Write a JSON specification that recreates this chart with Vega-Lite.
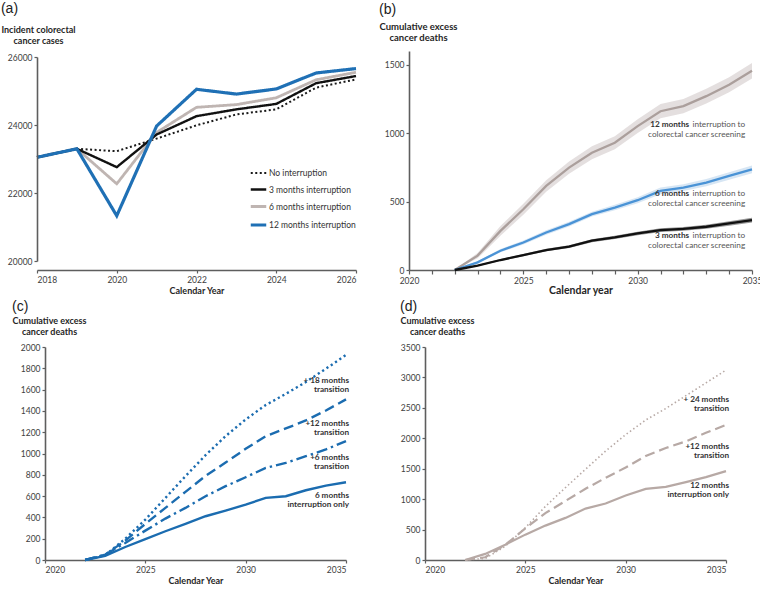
{
  "$schema": "https://vega.github.io/schema/vega-lite/v6.json",
  "padding": {"left": 0, "top": 2, "right": 0, "bottom": 0},
  "bounds": "flush",
  "columns": 2,
  "spacing": {"row": 77, "column": 53},
  "config": {
    "view": {"stroke": null, "fill": null},
    "font": "Lato",
    "axis": {"zindex": 1, "domain": true, "domainWidth": 1.6, "labelOverlap": false, "labelFont": "Lato", "labelFontSize": 8.5, "labelColor": "#404040", "domainColor": "#5e5e5e", "tickColor": "#5e5e5e", "tickWidth": 1.2, "tickSize": 3, "grid": false, "titleFont": "Lato", "titleFontWeight": "bold", "titleColor": "#262626", "titleFontSize": 9, "labelPadding": 2},
    "axisY": {"domain": true, "domainColor": "#5e5e5e", "domainWidth": 1.6, "zindex": 1},
    "title": {"font": "Liberation Sans", "fontSize": 14, "fontWeight": "normal", "anchor": "start", "color": "#222222"}
  },
  "datasets": {
    "inc": [
      {"scenario": "No interruption", "year": 2018, "cases": 23050}, {"scenario": "No interruption", "year": 2019, "cases": 23300}, {"scenario": "No interruption", "year": 2020, "cases": 23230}, {"scenario": "No interruption", "year": 2021, "cases": 23600}, {"scenario": "No interruption", "year": 2022, "cases": 23990}, {"scenario": "No interruption", "year": 2023, "cases": 24310}, {"scenario": "No interruption", "year": 2024, "cases": 24460}, {"scenario": "No interruption", "year": 2025, "cases": 25100}, {"scenario": "No interruption", "year": 2026, "cases": 25340},
      {"scenario": "6 months interruption", "year": 2018, "cases": 23050}, {"scenario": "6 months interruption", "year": 2019, "cases": 23300}, {"scenario": "6 months interruption", "year": 2020, "cases": 22270}, {"scenario": "6 months interruption", "year": 2021, "cases": 23780}, {"scenario": "6 months interruption", "year": 2022, "cases": 24520}, {"scenario": "6 months interruption", "year": 2023, "cases": 24600}, {"scenario": "6 months interruption", "year": 2024, "cases": 24800}, {"scenario": "6 months interruption", "year": 2025, "cases": 25330}, {"scenario": "6 months interruption", "year": 2026, "cases": 25550},
      {"scenario": "3 months interruption", "year": 2018, "cases": 23050}, {"scenario": "3 months interruption", "year": 2019, "cases": 23300}, {"scenario": "3 months interruption", "year": 2020, "cases": 22760}, {"scenario": "3 months interruption", "year": 2021, "cases": 23720}, {"scenario": "3 months interruption", "year": 2022, "cases": 24260}, {"scenario": "3 months interruption", "year": 2023, "cases": 24460}, {"scenario": "3 months interruption", "year": 2024, "cases": 24620}, {"scenario": "3 months interruption", "year": 2025, "cases": 25230}, {"scenario": "3 months interruption", "year": 2026, "cases": 25440},
      {"scenario": "12 months interruption", "year": 2018, "cases": 23050}, {"scenario": "12 months interruption", "year": 2019, "cases": 23300}, {"scenario": "12 months interruption", "year": 2020, "cases": 21330}, {"scenario": "12 months interruption", "year": 2021, "cases": 23970}, {"scenario": "12 months interruption", "year": 2022, "cases": 25050}, {"scenario": "12 months interruption", "year": 2023, "cases": 24910}, {"scenario": "12 months interruption", "year": 2024, "cases": 25060}, {"scenario": "12 months interruption", "year": 2025, "cases": 25530}, {"scenario": "12 months interruption", "year": 2026, "cases": 25660}
    ],
    "deathsB": [
      {"scenario": "12 months", "year": 2022, "deaths": 0, "lo": 0, "hi": 0}, {"scenario": "12 months", "year": 2023, "deaths": 105, "lo": 85, "hi": 125}, {"scenario": "12 months", "year": 2024, "deaths": 286, "lo": 251, "hi": 321}, {"scenario": "12 months", "year": 2025, "deaths": 444, "lo": 404, "hi": 484}, {"scenario": "12 months", "year": 2026, "deaths": 614, "lo": 572, "hi": 656}, {"scenario": "12 months", "year": 2027, "deaths": 748, "lo": 703, "hi": 793}, {"scenario": "12 months", "year": 2028, "deaths": 857, "lo": 810, "hi": 904}, {"scenario": "12 months", "year": 2029, "deaths": 930, "lo": 882, "hi": 978}, {"scenario": "12 months", "year": 2030, "deaths": 1051, "lo": 1001, "hi": 1101}, {"scenario": "12 months", "year": 2031, "deaths": 1160, "lo": 1108, "hi": 1212}, {"scenario": "12 months", "year": 2032, "deaths": 1197, "lo": 1145, "hi": 1249}, {"scenario": "12 months", "year": 2033, "deaths": 1270, "lo": 1216, "hi": 1324}, {"scenario": "12 months", "year": 2034, "deaths": 1354, "lo": 1299, "hi": 1409}, {"scenario": "12 months", "year": 2035, "deaths": 1456, "lo": 1400, "hi": 1512},
      {"scenario": "6 months", "year": 2022, "deaths": 0, "lo": 0, "hi": 0}, {"scenario": "6 months", "year": 2023, "deaths": 56, "lo": 48, "hi": 64}, {"scenario": "6 months", "year": 2024, "deaths": 141, "lo": 129, "hi": 153}, {"scenario": "6 months", "year": 2025, "deaths": 201, "lo": 187, "hi": 215}, {"scenario": "6 months", "year": 2026, "deaths": 274, "lo": 258, "hi": 290}, {"scenario": "6 months", "year": 2027, "deaths": 335, "lo": 318, "hi": 352}, {"scenario": "6 months", "year": 2028, "deaths": 408, "lo": 390, "hi": 426}, {"scenario": "6 months", "year": 2029, "deaths": 456, "lo": 436, "hi": 476}, {"scenario": "6 months", "year": 2030, "deaths": 510, "lo": 488, "hi": 532}, {"scenario": "6 months", "year": 2031, "deaths": 578, "lo": 554, "hi": 602}, {"scenario": "6 months", "year": 2032, "deaths": 602, "lo": 577, "hi": 627}, {"scenario": "6 months", "year": 2033, "deaths": 638, "lo": 612, "hi": 664}, {"scenario": "6 months", "year": 2034, "deaths": 687, "lo": 660, "hi": 714}, {"scenario": "6 months", "year": 2035, "deaths": 735, "lo": 707, "hi": 763},
      {"scenario": "3 months", "year": 2022, "deaths": 0, "lo": 0, "hi": 0}, {"scenario": "3 months", "year": 2023, "deaths": 32, "lo": 27, "hi": 37}, {"scenario": "3 months", "year": 2024, "deaths": 73, "lo": 66, "hi": 80}, {"scenario": "3 months", "year": 2025, "deaths": 109, "lo": 101, "hi": 117}, {"scenario": "3 months", "year": 2026, "deaths": 146, "lo": 137, "hi": 155}, {"scenario": "3 months", "year": 2027, "deaths": 170, "lo": 160, "hi": 180}, {"scenario": "3 months", "year": 2028, "deaths": 214, "lo": 203, "hi": 225}, {"scenario": "3 months", "year": 2029, "deaths": 238, "lo": 226, "hi": 250}, {"scenario": "3 months", "year": 2030, "deaths": 267, "lo": 254, "hi": 280}, {"scenario": "3 months", "year": 2031, "deaths": 291, "lo": 277, "hi": 305}, {"scenario": "3 months", "year": 2032, "deaths": 301, "lo": 287, "hi": 315}, {"scenario": "3 months", "year": 2033, "deaths": 316, "lo": 301, "hi": 331}, {"scenario": "3 months", "year": 2034, "deaths": 340, "lo": 324, "hi": 356}, {"scenario": "3 months", "year": 2035, "deaths": 364, "lo": 347, "hi": 381}
    ],
    "labelsB": [
      {"year": 2034.7, "value": 1063, "bold": "12 months", "rest": "interruption to", "line2": "colorectal cancer screening"},
      {"year": 2034.7, "value": 553, "bold": "6 months", "rest": "interruption to", "line2": "colorectal cancer screening"},
      {"year": 2034.7, "value": 248, "bold": "3 months", "rest": "interruption to", "line2": "colorectal cancer screening"}
    ],
    "deathsC": [
      {"scenario": "+18 months transition", "year": 2022, "deaths": 0}, {"scenario": "+18 months transition", "year": 2023, "deaths": 45}, {"scenario": "+18 months transition", "year": 2024, "deaths": 200}, {"scenario": "+18 months transition", "year": 2025, "deaths": 379}, {"scenario": "+18 months transition", "year": 2026, "deaths": 583}, {"scenario": "+18 months transition", "year": 2027, "deaths": 787}, {"scenario": "+18 months transition", "year": 2028, "deaths": 984}, {"scenario": "+18 months transition", "year": 2029, "deaths": 1163}, {"scenario": "+18 months transition", "year": 2030, "deaths": 1320}, {"scenario": "+18 months transition", "year": 2031, "deaths": 1455}, {"scenario": "+18 months transition", "year": 2032, "deaths": 1560}, {"scenario": "+18 months transition", "year": 2033, "deaths": 1671}, {"scenario": "+18 months transition", "year": 2034, "deaths": 1796}, {"scenario": "+18 months transition", "year": 2035, "deaths": 1925},
      {"scenario": "+12 months transition", "year": 2022, "deaths": 0}, {"scenario": "+12 months transition", "year": 2023, "deaths": 50}, {"scenario": "+12 months transition", "year": 2024, "deaths": 182}, {"scenario": "+12 months transition", "year": 2025, "deaths": 339}, {"scenario": "+12 months transition", "year": 2026, "deaths": 489}, {"scenario": "+12 months transition", "year": 2027, "deaths": 640}, {"scenario": "+12 months transition", "year": 2028, "deaths": 790}, {"scenario": "+12 months transition", "year": 2029, "deaths": 915}, {"scenario": "+12 months transition", "year": 2030, "deaths": 1044}, {"scenario": "+12 months transition", "year": 2031, "deaths": 1163}, {"scenario": "+12 months transition", "year": 2032, "deaths": 1235}, {"scenario": "+12 months transition", "year": 2033, "deaths": 1310}, {"scenario": "+12 months transition", "year": 2034, "deaths": 1404}, {"scenario": "+12 months transition", "year": 2035, "deaths": 1508},
      {"scenario": "+6 months transition", "year": 2022, "deaths": 0}, {"scenario": "+6 months transition", "year": 2023, "deaths": 50}, {"scenario": "+6 months transition", "year": 2024, "deaths": 160}, {"scenario": "+6 months transition", "year": 2025, "deaths": 276}, {"scenario": "+6 months transition", "year": 2026, "deaths": 389}, {"scenario": "+6 months transition", "year": 2027, "deaths": 489}, {"scenario": "+6 months transition", "year": 2028, "deaths": 599}, {"scenario": "+6 months transition", "year": 2029, "deaths": 693}, {"scenario": "+6 months transition", "year": 2030, "deaths": 777}, {"scenario": "+6 months transition", "year": 2031, "deaths": 865}, {"scenario": "+6 months transition", "year": 2032, "deaths": 912}, {"scenario": "+6 months transition", "year": 2033, "deaths": 975}, {"scenario": "+6 months transition", "year": 2034, "deaths": 1038}, {"scenario": "+6 months transition", "year": 2035, "deaths": 1116},
      {"scenario": "6 months interruption only", "year": 2022, "deaths": 0}, {"scenario": "6 months interruption only", "year": 2023, "deaths": 38}, {"scenario": "6 months interruption only", "year": 2024, "deaths": 122}, {"scenario": "6 months interruption only", "year": 2025, "deaths": 197}, {"scenario": "6 months interruption only", "year": 2026, "deaths": 270}, {"scenario": "6 months interruption only", "year": 2027, "deaths": 339}, {"scenario": "6 months interruption only", "year": 2028, "deaths": 411}, {"scenario": "6 months interruption only", "year": 2029, "deaths": 464}, {"scenario": "6 months interruption only", "year": 2030, "deaths": 520}, {"scenario": "6 months interruption only", "year": 2031, "deaths": 583}, {"scenario": "6 months interruption only", "year": 2032, "deaths": 599}, {"scenario": "6 months interruption only", "year": 2033, "deaths": 655}, {"scenario": "6 months interruption only", "year": 2034, "deaths": 699}, {"scenario": "6 months interruption only", "year": 2035, "deaths": 730}
    ],
    "labelsC": [
      {"year": 2035, "value": 1681, "l1": "+ 18 months", "l2": "transition"},
      {"year": 2035, "value": 1277, "l1": "+12 months", "l2": "transition"},
      {"year": 2035, "value": 958, "l1": "+6 months", "l2": "transition"},
      {"year": 2035, "value": 601, "l1": "6 months", "l2": "interruption only"}
    ],
    "deathsD": [
      {"scenario": "+ 24 months transition", "year": 2022, "deaths": 0}, {"scenario": "+ 24 months transition", "year": 2023, "deaths": 25}, {"scenario": "+ 24 months transition", "year": 2024, "deaths": 225}, {"scenario": "+ 24 months transition", "year": 2025, "deaths": 530}, {"scenario": "+ 24 months transition", "year": 2026, "deaths": 880}, {"scenario": "+ 24 months transition", "year": 2027, "deaths": 1190}, {"scenario": "+ 24 months transition", "year": 2028, "deaths": 1490}, {"scenario": "+ 24 months transition", "year": 2029, "deaths": 1790}, {"scenario": "+ 24 months transition", "year": 2030, "deaths": 2060}, {"scenario": "+ 24 months transition", "year": 2031, "deaths": 2300}, {"scenario": "+ 24 months transition", "year": 2032, "deaths": 2490}, {"scenario": "+ 24 months transition", "year": 2033, "deaths": 2700}, {"scenario": "+ 24 months transition", "year": 2034, "deaths": 2910}, {"scenario": "+ 24 months transition", "year": 2035, "deaths": 3120},
      {"scenario": "+12 months transition", "year": 2022, "deaths": 0}, {"scenario": "+12 months transition", "year": 2023, "deaths": 45}, {"scenario": "+12 months transition", "year": 2024, "deaths": 250}, {"scenario": "+12 months transition", "year": 2025, "deaths": 520}, {"scenario": "+12 months transition", "year": 2026, "deaths": 770}, {"scenario": "+12 months transition", "year": 2027, "deaths": 970}, {"scenario": "+12 months transition", "year": 2028, "deaths": 1170}, {"scenario": "+12 months transition", "year": 2029, "deaths": 1350}, {"scenario": "+12 months transition", "year": 2030, "deaths": 1520}, {"scenario": "+12 months transition", "year": 2031, "deaths": 1710}, {"scenario": "+12 months transition", "year": 2032, "deaths": 1840}, {"scenario": "+12 months transition", "year": 2033, "deaths": 1950}, {"scenario": "+12 months transition", "year": 2034, "deaths": 2090}, {"scenario": "+12 months transition", "year": 2035, "deaths": 2220},
      {"scenario": "12 months interruption only", "year": 2022, "deaths": 0}, {"scenario": "12 months interruption only", "year": 2023, "deaths": 100}, {"scenario": "12 months interruption only", "year": 2024, "deaths": 252}, {"scenario": "12 months interruption only", "year": 2025, "deaths": 417}, {"scenario": "12 months interruption only", "year": 2026, "deaths": 565}, {"scenario": "12 months interruption only", "year": 2027, "deaths": 692}, {"scenario": "12 months interruption only", "year": 2028, "deaths": 845}, {"scenario": "12 months interruption only", "year": 2029, "deaths": 928}, {"scenario": "12 months interruption only", "year": 2030, "deaths": 1060}, {"scenario": "12 months interruption only", "year": 2031, "deaths": 1169}, {"scenario": "12 months interruption only", "year": 2032, "deaths": 1202}, {"scenario": "12 months interruption only", "year": 2033, "deaths": 1279}, {"scenario": "12 months interruption only", "year": 2034, "deaths": 1361}, {"scenario": "12 months interruption only", "year": 2035, "deaths": 1460}
    ],
    "labelsD": [
      {"year": 2035, "value": 2634, "l1": "+ 24 months", "l2": "transition"},
      {"year": 2035, "value": 1862, "l1": "+12 months", "l2": "transition"},
      {"year": 2035, "value": 1216, "l1": "12 months", "l2": "interruption only"}
    ],
    "one": [{"k": 1}]
  },
  "concat": [
    {
      "width": 319,
      "height": 219,
      "title": {"text": "(a)", "offset": 9},
      "encoding": {
        "x": {"field": "year", "type": "quantitative", "scale": {"domain": [2018, 2026], "nice": false, "zero": false},
          "axis": {"values": [2018, 2020, 2022, 2024, 2026], "format": "d", "labelOverlap": false, "title": "Calendar Year", "titlePadding": 3}},
        "y": {"field": "cases", "type": "quantitative", "scale": {"domain": [20000, 26000], "range": [210, 6], "nice": false, "zero": false},
          "axis": {"domain": true, "zindex": 1, "values": [20000, 22000, 24000, 26000], "format": "d", "labelOverlap": false, "title": ["Incident colorectal", "cancer cases"], "titleAngle": 0, "titleAlign": "center", "titleBaseline": "top", "titleX": 1, "titleY": -26, "titleLineHeight": 11}}
      },
      "layer": [
        {
          "data": {"name": "inc"},
          "mark": {"type": "line", "strokeCap": "butt", "strokeJoin": "miter"},
          "encoding": {
            "color": {"field": "scenario", "type": "nominal",
              "scale": {"domain": ["No interruption", "3 months interruption", "6 months interruption", "12 months interruption"], "range": ["#1a1a1a", "#111111", "#bfb5b2", "#1f70b5"]},
              "legend": {"orient": "none", "legendX": 212, "legendY": 113, "title": null, "symbolType": "stroke", "symbolSize": 240, "labelFont": "Lato", "labelFontSize": 8.5, "labelColor": "#333333", "labelOffset": 1, "rowPadding": 2.5, "symbolStrokeWidth": 2.5,
                "encode": {"symbols": {"update": {
                  "strokeDash": {"signal": "datum.value === 'No interruption' ? [2, 2.5] : [1, 0]"},
                  "strokeWidth": {"signal": "datum.value === 'No interruption' ? 2 : (datum.value === '3 months interruption' ? 3.2 : 2.5)"}
                }}}}},
            "strokeDash": {"field": "scenario", "type": "nominal", "legend": null,
              "scale": {"domain": ["No interruption", "3 months interruption", "6 months interruption", "12 months interruption"], "range": [[2, 2.5], [1, 0], [1, 0], [1, 0]]}},
            "strokeWidth": {"field": "scenario", "type": "nominal", "legend": null,
              "scale": {"domain": ["No interruption", "3 months interruption", "6 months interruption", "12 months interruption"], "range": [2, 3.2, 2.5, 2.5]}}
          }
        },
        {
          "data": {"name": "one"},
          "mark": {"type": "rule", "color": "#5e5e5e", "strokeWidth": 1.6},
          "encoding": {"x": {"datum": 2018}, "y": {"datum": 20000}, "y2": {"datum": 26000}}
        }
      ]
    },
    {
      "width": 343,
      "height": 219,
      "title": {"text": "(b)", "offset": 4},
      "encoding": {
        "x": {"field": "year", "type": "quantitative", "scale": {"domain": [2020, 2035], "nice": false, "zero": false},
          "axis": {"values": [2020, 2021, 2022, 2023, 2024, 2025, 2026, 2027, 2028, 2029, 2030, 2031, 2032, 2033, 2034, 2035], "format": "d", "labelOverlap": false, "labelFlush": false, "labelExpr": "datum.value % 5 === 0 ? format(datum.value, 'd') : ''", "title": "Calendar year", "titleFontSize": 10.5, "titlePadding": 1, "tickSize": 4}}
      },
      "layer": [
        {
          "data": {"name": "deathsB"},
          "mark": {"type": "area", "opacity": 0.9},
          "encoding": {
            "y": {"field": "lo", "type": "quantitative", "scale": {"domain": [0, 1600], "nice": false},
              "axis": {"domain": true, "zindex": 1, "values": [0, 500, 1000, 1500], "format": "d", "labelOverlap": false, "title": ["Cumulative excess", "cancer deaths"], "titleAngle": 0, "titleAlign": "center", "titleBaseline": "top", "titleX": 9, "titleY": -30, "titleLineHeight": 11, "titleFontSize": 9.5}},
            "y2": {"field": "hi"},
            "fill": {"field": "scenario", "type": "nominal", "legend": null,
              "scale": {"domain": ["12 months", "6 months", "3 months"], "range": ["#e1dcdb", "#d3e3f3", "#8c8c8c"]}}
          }
        },
        {
          "data": {"name": "deathsB"},
          "mark": {"type": "line", "strokeWidth": 2.3},
          "encoding": {
            "y": {"field": "deaths", "type": "quantitative"},
            "stroke": {"field": "scenario", "type": "nominal", "legend": null,
              "scale": {"domain": ["12 months", "6 months", "3 months"], "range": ["#ab9f9c", "#4a93d6", "#111111"]}}
          }
        },
        {
          "data": {"name": "one"},
          "mark": {"type": "rule", "color": "#5e5e5e", "strokeWidth": 1.6},
          "encoding": {"x": {"datum": 2020}, "y": {"datum": 0}, "y2": {"datum": 1600}}
        },
        {
          "data": {"name": "labelsB"},
          "mark": {"type": "text", "align": "right", "baseline": "middle", "font": "Lato", "fontSize": 8.2, "color": "#555555"},
          "encoding": {"y": {"field": "value", "type": "quantitative"}, "text": {"field": "rest"}}
        },
        {
          "data": {"name": "labelsB"},
          "mark": {"type": "text", "align": "right", "baseline": "middle", "font": "Lato", "fontSize": 8.2, "fontWeight": "bold", "color": "#333333", "dx": -56},
          "encoding": {"y": {"field": "value", "type": "quantitative"}, "text": {"field": "bold"}}
        },
        {
          "data": {"name": "labelsB"},
          "mark": {"type": "text", "align": "right", "baseline": "middle", "font": "Lato", "fontSize": 8.2, "color": "#555555", "dy": 10},
          "encoding": {"y": {"field": "value", "type": "quantitative"}, "text": {"field": "line2"}}
        }
      ]
    },
    {
      "width": 319,
      "height": 213,
      "title": {"text": "(c)", "offset": 2},
      "encoding": {
        "x": {"field": "year", "type": "quantitative", "scale": {"domain": [2020, 2035], "range": [8, 309], "nice": false, "zero": false},
          "axis": {"values": [2020, 2025, 2030, 2035], "format": "d", "labelOverlap": false, "title": "Calendar Year", "titlePadding": 3}},
        "y": {"field": "deaths", "type": "quantitative", "scale": {"domain": [0, 2000], "nice": false},
          "axis": {"domain": true, "zindex": 1, "offset": -8, "values": [0, 200, 400, 600, 800, 1000, 1200, 1400, 1600, 1800, 2000], "format": "d", "labelOverlap": false, "title": ["Cumulative excess", "cancer deaths"], "titleAngle": 0, "titleAlign": "center", "titleBaseline": "top", "titleX": 4, "titleY": -31, "titleLineHeight": 11}}
      },
      "layer": [
        {"data": {"name": "deathsC"}, "transform": [{"filter": "datum.scenario === '6 months interruption only'"}],
         "mark": {"type": "line", "strokeWidth": 2.4, "color": "#1b6cb0"}},
        {"data": {"name": "deathsC"}, "transform": [{"filter": "datum.scenario === '+6 months transition'"}],
         "mark": {"type": "line", "strokeWidth": 2.4, "color": "#1b6cb0", "strokeCap": "butt", "strokeDash": [11, 4, 2.4, 4]}},
        {"data": {"name": "deathsC"}, "transform": [{"filter": "datum.scenario === '+12 months transition'"}],
         "mark": {"type": "line", "strokeWidth": 2.4, "color": "#1b6cb0", "strokeCap": "butt", "strokeDash": [10, 5]}},
        {"data": {"name": "deathsC"}, "transform": [{"filter": "datum.scenario === '+18 months transition'"}],
         "mark": {"type": "line", "strokeWidth": 2.4, "color": "#1b6cb0", "strokeCap": "butt", "strokeDash": [2.2, 3]}},
        {
          "data": {"name": "one"},
          "mark": {"type": "rule", "color": "#5e5e5e", "strokeWidth": 1.6},
          "encoding": {"x": {"datum": 2020}, "y": {"datum": 0}, "y2": {"datum": 2000}}
        },
        {
          "data": {"name": "labelsC"},
          "mark": {"type": "text", "align": "right", "baseline": "middle", "font": "Lato", "fontSize": 8.2, "fontWeight": "bold", "color": "#333333", "dx": 3},
          "encoding": {"y": {"field": "value", "type": "quantitative"}, "text": {"field": "l1"}}
        },
        {
          "data": {"name": "labelsC"},
          "mark": {"type": "text", "align": "right", "baseline": "middle", "font": "Lato", "fontSize": 8.2, "fontWeight": "bold", "color": "#333333", "dx": 3, "dy": 9.3},
          "encoding": {"y": {"field": "value", "type": "quantitative"}, "text": {"field": "l2"}}
        }
      ]
    },
    {
      "width": 317,
      "height": 213,
      "title": {"text": "(d)", "offset": 2},
      "encoding": {
        "x": {"field": "year", "type": "quantitative", "scale": {"domain": [2020, 2035], "range": [16, 317], "nice": false, "zero": false},
          "axis": {"values": [2020, 2025, 2030, 2035], "format": "d", "labelOverlap": false, "title": "Calendar Year", "titlePadding": 3}},
        "y": {"field": "deaths", "type": "quantitative", "scale": {"domain": [0, 3500], "nice": false},
          "axis": {"domain": true, "zindex": 1, "offset": -16, "values": [0, 500, 1000, 1500, 2000, 2500, 3000, 3500], "format": "d", "labelOverlap": false, "title": ["Cumulative excess", "cancer deaths"], "titleAngle": 0, "titleAlign": "center", "titleBaseline": "top", "titleX": 12, "titleY": -31, "titleLineHeight": 11}}
      },
      "layer": [
        {"data": {"name": "deathsD"}, "transform": [{"filter": "datum.scenario === '12 months interruption only'"}],
         "mark": {"type": "line", "strokeWidth": 2.2, "color": "#b7a9a5"}},
        {"data": {"name": "deathsD"}, "transform": [{"filter": "datum.scenario === '+12 months transition'"}],
         "mark": {"type": "line", "strokeWidth": 2.2, "color": "#b7a9a5", "strokeCap": "butt", "strokeDash": [10, 5]}},
        {"data": {"name": "deathsD"}, "transform": [{"filter": "datum.scenario === '+ 24 months transition'"}],
         "mark": {"type": "line", "strokeWidth": 1.6, "color": "#b7a9a5", "strokeCap": "butt", "strokeDash": [1.5, 2.6]}},
        {
          "data": {"name": "one"},
          "mark": {"type": "rule", "color": "#5e5e5e", "strokeWidth": 1.6},
          "encoding": {"x": {"datum": 2020}, "y": {"datum": 0}, "y2": {"datum": 3500}}
        },
        {
          "data": {"name": "labelsD"},
          "mark": {"type": "text", "align": "right", "baseline": "middle", "font": "Lato", "fontSize": 8.2, "fontWeight": "bold", "color": "#333333", "dx": 3},
          "encoding": {"y": {"field": "value", "type": "quantitative"}, "text": {"field": "l1"}}
        },
        {
          "data": {"name": "labelsD"},
          "mark": {"type": "text", "align": "right", "baseline": "middle", "font": "Lato", "fontSize": 8.2, "fontWeight": "bold", "color": "#333333", "dx": 3, "dy": 9.3},
          "encoding": {"y": {"field": "value", "type": "quantitative"}, "text": {"field": "l2"}}
        }
      ]
    }
  ]
}
